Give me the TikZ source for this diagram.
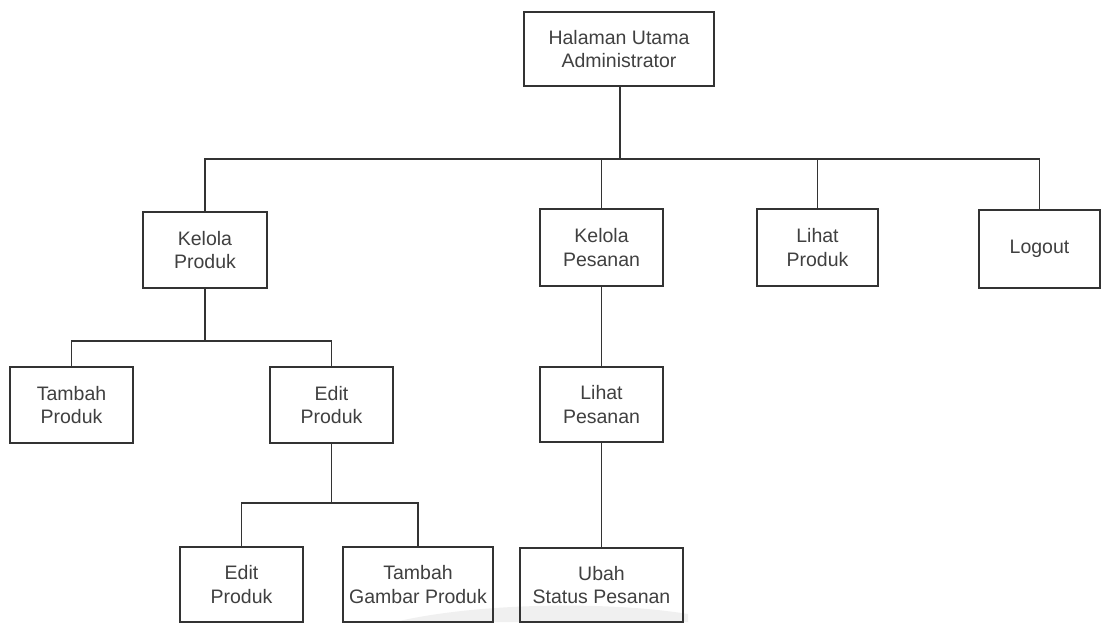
\documentclass[tikz,border=0pt]{standalone}
\usepackage{fontspec}
\setmainfont{Liberation Sans}
\begin{document}
\begin{tikzpicture}[x=1pt,y=-1pt,
  menubox/.style={draw=black!80, line width=1.8pt, inner sep=0pt, align=center,
    font=\fontsize{19.5}{23.5}\selectfont, text=black!75},
  link/.style={draw=black!80, line width=1.8pt}]
\useasboundingbox (0,0) rectangle (1102,624);
\fill[white] (0,0) rectangle (1102,624);

% faint band along the bottom
\fill[gray!12] (395,622) .. controls (470,604) and (600,600) .. (688,614) -- (688,622) -- cycle;

% menu boxes
\node[menubox, minimum width=190pt, minimum height=74pt] (top) at (619,49) {Halaman Utama\\Administrator};
\node[menubox, minimum width=124pt, minimum height=76pt] (kp) at (205,250) {Kelola\\Produk};
\node[menubox, minimum width=123pt, minimum height=77pt] (kpes) at (601.5,247.5) {Kelola\\Pesanan};
\node[menubox, minimum width=121pt, minimum height=77pt] (lp) at (817.5,247.5) {Lihat\\Produk};
\node[menubox, minimum width=121pt, minimum height=78pt] (lo) at (1039.5,249) {Logout};
\node[menubox, minimum width=123pt, minimum height=76pt] (tp) at (71.5,405) {Tambah\\Produk};
\node[menubox, minimum width=123pt, minimum height=76pt] (ep) at (331.5,405) {Edit\\Produk};
\node[menubox, minimum width=123pt, minimum height=75pt] (lpes) at (601.5,404.5) {Lihat\\Pesanan};
\node[menubox, minimum width=123pt, minimum height=75pt] (ep2) at (241.5,584.5) {Edit\\Produk};
\node[menubox, minimum width=150pt, minimum height=75pt] (tgp) at (418,584.5) {Tambah\\Gambar Produk};
\node[menubox, minimum width=163pt, minimum height=74pt] (ubah) at (601.5,585) {Ubah\\Status Pesanan};

% bus levels
\coordinate (bA) at (0,159);
\coordinate (bB) at (0,341);
\coordinate (bC) at (0,503);

% first level
\draw[link] (kp.north) -- (kp.north |- bA) -- (lo.north |- bA) -- (lo.north);
\draw[link] ([xshift=1pt]top.south) -- ([xshift=1pt]top.south |- bA);
\draw[link] (kpes.north) -- (kpes.north |- bA);
\draw[link] (lp.north) -- (lp.north |- bA);

% under Kelola Produk
\draw[link] (tp.north) -- (tp.north |- bB) -- (ep.north |- bB) -- (ep.north);
\draw[link] (kp.south) -- (kp.south |- bB);

% under Edit Produk
\draw[link] (ep2.north) -- (ep2.north |- bC) -- (tgp.north |- bC) -- (tgp.north);
\draw[link] (ep.south) -- (ep.south |- bC);

% under Kelola Pesanan
\draw[link] (kpes.south) -- (lpes.north);
\draw[link] (lpes.south) -- (ubah.north);
\end{tikzpicture}
\end{document}
